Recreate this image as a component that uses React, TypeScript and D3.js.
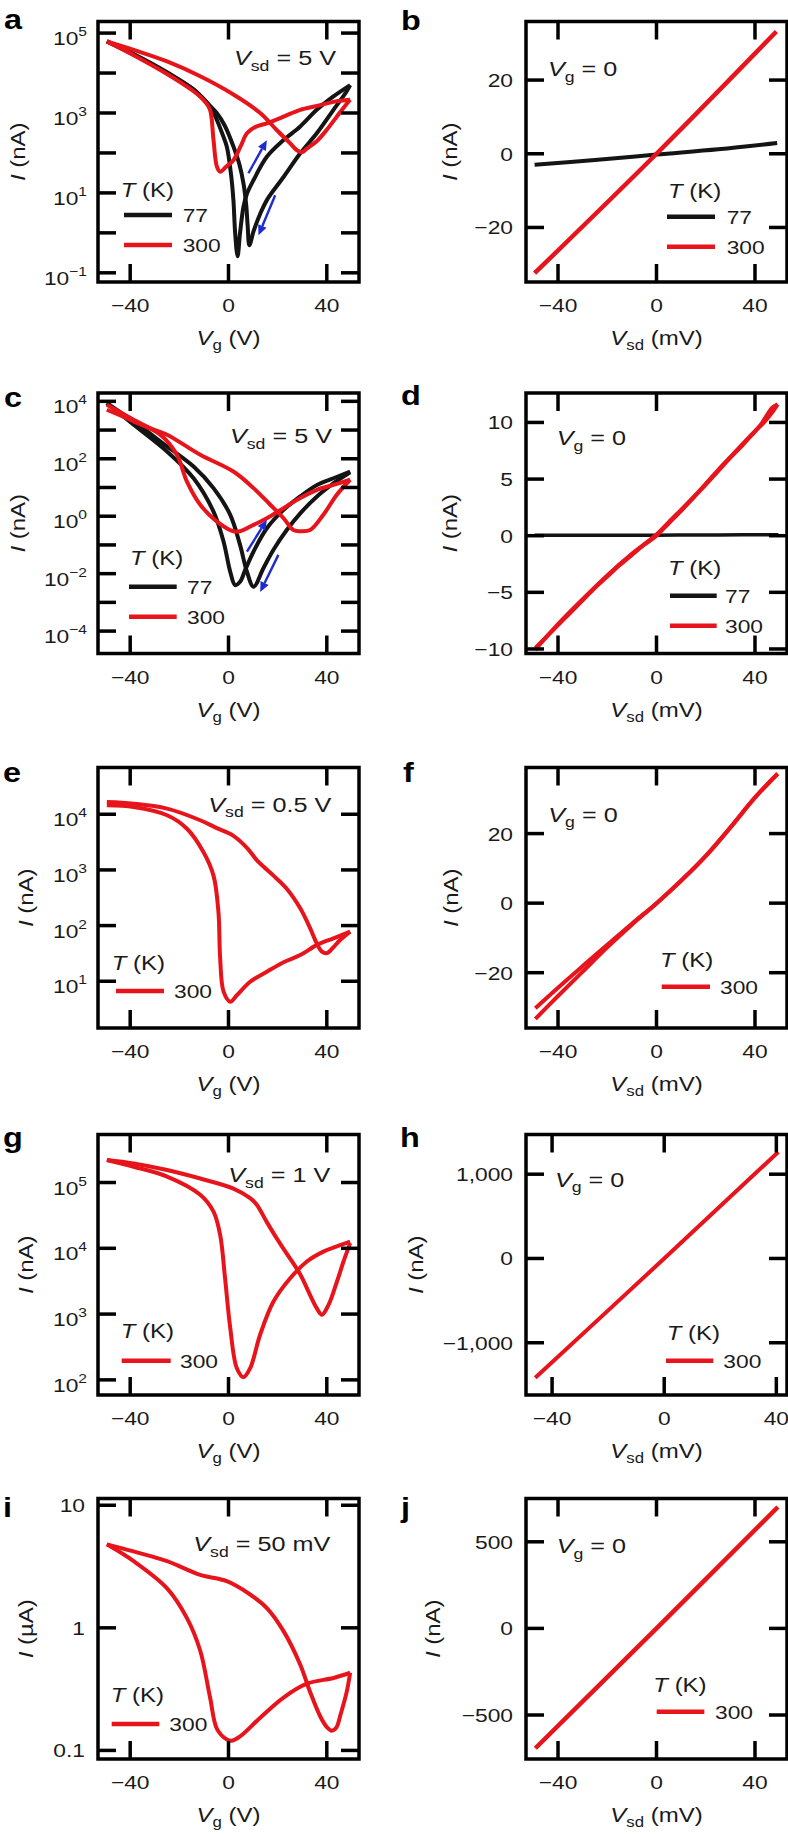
import React from 'react';
import * as d3 from 'd3';

type Pt = [number, number];

// ---------------- data ----------------
// panel a (log I in nA vs Vg)
const aBlack77Fwd: Pt[] = [[-49.5,6.2e4],[-38.6,2.9e4],[-25,1.0e4],[-14.2,3800],[-7.5,1450],[-4.7,660],[-2.5,300],[-0.7,145],[1,30],[2,6.6],[2.7,1.0],[3.7,0.26],[4.7,1.0],[6.1,4.5],[7.5,9.5],[10.2,21],[15.6,80],[22.4,210],[29.2,460],[35.9,1200],[42.7,2600],[49.5,5000]];
const aBlack77Rev: Pt[] = [[49.5,5000],[48.1,3500],[42.7,1200],[35.9,310],[29.2,98],[22.4,25],[15.6,6.6],[12.9,3.0],[10.2,1.1],[8.5,0.49],[7.8,1.5],[7.2,5],[6.1,17],[4.5,50],[2,145],[-1.5,480],[-4.7,980],[-7.5,1500],[-14.2,3900],[-25,1.05e4],[-38.6,3.0e4],[-49.5,6.2e4]];
const aRed300Fwd: Pt[] = [[-49.5,6.2e4],[-38.6,2.8e4],[-25,9500],[-14.2,3500],[-9.5,1900],[-7.5,1200],[-6.1,210],[-4.7,45],[-3.4,34],[-1,45],[2,66],[5,150],[7.5,310],[11,450],[15.6,550],[22.4,810],[29.2,1200],[35.9,1500],[42.7,1900],[49.5,2140]];
const aRed300Rev: Pt[] = [[49.5,2140],[47,1400],[44,800],[40,380],[36,200],[32,130],[30,105],[28,115],[25.1,174],[19.7,370],[12.9,1000],[2,2900],[-11.5,8300],[-25,1.95e4],[-38.6,3.8e4],[-49.5,6.2e4]];
const aArrows: [Pt, Pt][] = [[[8.1,31],[15.6,209]],[[19.0,8.7],[12.2,0.87]]];
const aYTicks = [1e5, 1e3, 1e1, 1e-1];
const aYTickExp = ['5', '3', '1', '−1'];
const aYMinor = [1e4, 1e2, 1e0];

// panel b
const bBlack77: Pt[] = [[-49.5,-3.0],[-25,-1.7],[0,-0.2],[25,1.2],[49,2.9]];
const bRed300: Pt[] = [[-49.5,-32.4],[0,0],[48.7,33.2]];
const bYTicks = [20, 0, -20];
const bYTickLabels = ['20', '0', '−20'];

// panel c
const cBlack77Fwd: Pt[] = [[-49.5,8700],[-38.6,1550],[-25,180],[-14.2,21],[-6.1,1.45],[-2,0.13],[0.7,0.0117],[2.7,0.004],[4.7,0.0052],[6.8,0.0135],[10.2,0.059],[15.6,0.38],[22.4,1.66],[29.2,4.9],[36,12.3],[42.7,21],[49.5,36]];
const cBlack77Rev: Pt[] = [[49.5,34],[42.7,14],[36,4.9],[29.2,1.26],[23.7,0.33],[18.3,0.068],[14.2,0.0155],[10.2,0.0035],[7.5,0.0117],[4.7,0.1],[0.7,1.12],[-6.1,9.5],[-14.2,54],[-25,270],[-38.6,2000],[-49.5,8700]];
const cRed300Rev: Pt[] = [[-49.5,7600],[-38.6,2300],[-31.9,1170],[-25,690],[-11.5,138],[2,36],[10.2,9.5],[17,2.5],[22.4,0.85],[26.4,0.33],[29.2,0.30],[33.2,0.33],[38.6,1.12],[44,5.5],[49.5,18.6]];
const cRed300Fwd: Pt[] = [[-49.5,5100],[-38.6,2000],[-27.8,690],[-21,138],[-16.9,16],[-11.5,2.5],[-4.7,0.65],[2,0.30],[4.7,0.30],[10.2,0.5],[15.6,0.85],[22.4,1.9],[29.2,4.3],[36,8.3],[42.7,12.3],[49.5,18.6]];
const cArrows: [Pt, Pt][] = [[[7.5,0.059],[15.6,0.74]],[[20.3,0.045],[12.9,0.0023]]];
const cYTicks = [1e4, 1e2, 1e0, 1e-2, 1e-4];
const cYTickExp = ['4', '2', '0', '−2', '−4'];
const cYMinor = [1e3, 1e1, 1e-1, 1e-3];

// panel d
const dBlack77: Pt[] = [[-49.5,0.05],[-25,0.04],[0,0.05],[25,0.07],[49.5,0.08]];
const dRed300Fwd: Pt[] = [[-49.2,-9.9],[-45,-9.0],[-40,-7.9],[-35,-6.8],[-30,-5.7],[-25,-4.6],[-20,-3.6],[-15,-2.6],[-10,-1.7],[-5,-0.8],[0,0],[5,1.1],[10,2.2],[15,3.35],[20,4.5],[25,5.7],[30,6.9],[35,8.0],[40,9.2],[44,10.1],[47,10.9],[49.2,11.6]];
const dRed300Rev: Pt[] = [[49.2,11.6],[47,11.3],[45,10.7],[42,9.7],[38,8.8],[32,7.4],[25,5.8],[15,3.4],[5,1.2],[0,0.1],[-10,-1.6],[-20,-3.5],[-30,-5.6],[-40,-7.8],[-47,-9.5],[-49.2,-10.1]];
const dYTicks = [10, 5, 0, -5, -10];
const dYTickLabels = ['10', '5', '0', '−5', '−10'];

// panel e
const eRed300Upper: Pt[] = [[-49.5,16600],[-38.6,15500],[-25,12600],[-11.5,7800],[-5,5700],[2,4100],[7.5,2500],[11.5,1500],[14.2,1150],[18.3,790],[23.7,460],[29.2,204],[33.2,90],[35.9,48],[38,34],[40,32],[42.5,40],[45.4,55],[49.5,78]];
const eRed300Lower: Pt[] = [[-49.5,14500],[-38.6,13500],[-25,9600],[-16.9,5500],[-10.2,2100],[-6.1,790],[-4.1,178],[-3.4,26],[-2,6.5],[0.7,4.3],[3.4,5.6],[8.8,9.8],[15.6,14.8],[22.4,22],[29.2,29.5],[36,45],[42.7,59],[49.5,78]];
const eYTicks = [1e4, 1e3, 1e2, 1e1];
const eYTickExp = ['4', '3', '2', '1'];

// panel f
const fRed300A: Pt[] = [[-49.2,-30.2],[-40,-24.3],[-30,-18.1],[-20,-12.0],[-10,-5.9],[0,0],[10,6.5],[20,13.6],[30,21.8],[40,30.4],[49.2,37.2]];
const fRed300B: Pt[] = [[-49.2,-33.3],[-40,-26.7],[-30,-19.7],[-20,-12.7],[-10,-6.2],[0,-0.1],[10,6.4],[20,13.5],[30,21.7],[40,30.3],[49.2,37.2]];
const fYTicks = [20, 0, -20];
const fYTickLabels = ['20', '0', '−20'];

// panel g
const gRed300Upper: Pt[] = [[-49.5,2.2e5],[-38.6,1.95e5],[-25,1.55e5],[-11.5,1.15e5],[2,8.1e4],[8.8,5.8e4],[11.5,4.6e4],[15.6,2.5e4],[19.7,1.4e4],[23.7,8300],[29.2,4000],[33.2,1950],[35.9,1230],[38,980],[40.7,1380],[44.1,3100],[46.8,6300],[49.5,1.2e4]];
const gRed300Lower: Pt[] = [[-49.5,2.2e5],[-38.6,1.74e5],[-25,1.23e5],[-11.5,6.5e4],[-6.1,3.6e4],[-3.4,1.6e4],[-1.4,3500],[0.7,620],[3.4,150],[6.1,110],[8.8,150],[12.9,490],[18.3,1550],[25.1,3500],[31.9,6300],[38.6,8900],[44.1,1.07e4],[49.5,1.26e4]];
const gYTicks = [1e5, 1e4, 1e3, 1e2];
const gYTickExp = ['5', '4', '3', '2'];

// panel h
const hRed300: Pt[] = [[-46,-1416],[0,0],[40.7,1264]];
const hYTicks = [1000, 0, -1000];
const hYTickLabels = ['1,000', '0', '−1,000'];

// panel i (µA)
const iRed300Upper: Pt[] = [[-49.5,4.8],[-38.6,4.2],[-25,3.5],[-11.5,2.7],[-0.7,2.4],[8.8,1.87],[15.6,1.45],[22.4,0.94],[29.2,0.5],[33.2,0.30],[37.3,0.19],[40,0.155],[42,0.145],[44,0.155],[45.4,0.19],[48.1,0.30],[49.5,0.43]];
const iRed300Lower: Pt[] = [[-49.5,4.8],[-38.6,3.5],[-25,2.1],[-16.9,1.2],[-11.5,0.65],[-7.5,0.27],[-4.7,0.15],[-0.7,0.123],[1.4,0.12],[4.7,0.13],[12.9,0.185],[22.4,0.27],[31.9,0.35],[42.7,0.39],[49.5,0.43]];
const iYTicks = [10, 1, 0.1];
const iYTickLabels = ['10', '1', '0.1'];

// panel j
const jRed300: Pt[] = [[-49.2,-692],[0,0],[49.3,701]];
const jYTicks = [500, 0, -500];
const jYTickLabels = ['500', '0', '−500'];

const xTicks = [-40, 0, 40];
const xTickLabels = ['−40', '0', '40'];

// ---------------- styles ----------------
const FONT = "'Liberation Sans', Arial, Helvetica, sans-serif";
const RED = '#e8141c';
const BLACK = '#141414';
const BLUE = '#1d2bcf';
const TXT = '#1a1a1a';
const SX = 1.2; // horizontal stretch of the lettering

interface Series { data: Pt[]; color: string; width?: number }
interface LegendItem { label: string; color: string; y: number }
interface PanelCfg {
  letter: string; lx: number; ly: number;
  L: number; T: number; W: number; H: number;
  xDomain: [number, number];
  log: boolean; yDomain: [number, number];
  yTicks: number[]; yLabels?: string[]; yExp?: string[]; yMinor?: number[];
  series: Series[];
  arrows?: [Pt, Pt][];
  legend: { tx: number; ty: number; x1: number; x2: number; textX: number; items: LegendItem[] };
  note: { x: number; y: number; sub: string; rest: string };
  xTitle: { sub: string; rest: string };
  yTitle: { unit: string; x: number };
}

const W = 261, H = 260.5;

const panels: PanelCfg[] = [
  { letter: 'a', lx: 4, ly: 29, L: 98, T: 21.5, W, H, xDomain: [-53.1, 53.1], log: true, yDomain: [10 ** -1.23, 10 ** 5.29],
    yTicks: aYTicks, yExp: aYTickExp, yMinor: aYMinor,
    series: [{ data: aBlack77Fwd, color: BLACK }, { data: aBlack77Rev, color: BLACK }, { data: aRed300Fwd, color: RED }, { data: aRed300Rev, color: RED }],
    arrows: aArrows,
    legend: { tx: 120.7, ty: 196.7, x1: 124, x2: 172, textX: 182.7, items: [{ label: '77', color: BLACK, y: 215 }, { label: '300', color: RED, y: 245 }] },
    note: { x: 234, y: 65, sub: 'sd', rest: ' = 5 V' }, xTitle: { sub: 'g', rest: ' (V)' }, yTitle: { unit: '(nA)', x: 25 } },
  { letter: 'b', lx: 401, ly: 30, L: 526, T: 21.5, W, H, xDomain: [-53, 53], log: false, yDomain: [-34.8, 35.9],
    yTicks: bYTicks, yLabels: bYTickLabels,
    series: [{ data: bBlack77, color: BLACK }, { data: bRed300, color: RED, width: 4.5 }],
    legend: { tx: 668, ty: 198, x1: 667, x2: 715, textX: 726.7, items: [{ label: '77', color: BLACK, y: 216.7 }, { label: '300', color: RED, y: 246.7 }] },
    note: { x: 548, y: 76, sub: 'g', rest: ' = 0' }, xTitle: { sub: 'sd', rest: ' (mV)' }, yTitle: { unit: '(nA)', x: 457 } },
  { letter: 'c', lx: 4, ly: 407, L: 98, T: 393, W, H, xDomain: [-53.1, 53.1], log: true, yDomain: [10 ** -4.78, 10 ** 4.29],
    yTicks: cYTicks, yExp: cYTickExp, yMinor: cYMinor,
    series: [{ data: cBlack77Fwd, color: BLACK }, { data: cBlack77Rev, color: BLACK }, { data: cRed300Fwd, color: RED }, { data: cRed300Rev, color: RED }],
    arrows: cArrows,
    legend: { tx: 130, ty: 565, x1: 129, x2: 176.7, textX: 187, items: [{ label: '77', color: BLACK, y: 586.7 }, { label: '300', color: RED, y: 616.7 }] },
    note: { x: 230, y: 443, sub: 'sd', rest: ' = 5 V' }, xTitle: { sub: 'g', rest: ' (V)' }, yTitle: { unit: '(nA)', x: 25 } },
  { letter: 'd', lx: 401, ly: 405, L: 526, T: 393, W, H, xDomain: [-53, 53], log: false, yDomain: [-10.4, 12.6],
    yTicks: dYTicks, yLabels: dYTickLabels,
    series: [{ data: dBlack77, color: BLACK, width: 3.5 }, { data: dRed300Fwd, color: RED }, { data: dRed300Rev, color: RED }],
    legend: { tx: 668, ty: 575, x1: 670, x2: 716.7, textX: 725, items: [{ label: '77', color: BLACK, y: 595.7 }, { label: '300', color: RED, y: 625.7 }] },
    note: { x: 556.7, y: 445, sub: 'g', rest: ' = 0' }, xTitle: { sub: 'sd', rest: ' (mV)' }, yTitle: { unit: '(nA)', x: 457 } },
  { letter: 'e', lx: 3, ly: 782, L: 98, T: 767.5, W, H, xDomain: [-53.1, 53.1], log: true, yDomain: [10 ** 0.16, 10 ** 4.84],
    yTicks: eYTicks, yExp: eYTickExp,
    series: [{ data: eRed300Upper, color: RED }, { data: eRed300Lower, color: RED }],
    legend: { tx: 111.7, ty: 970, x1: 116, x2: 164, textX: 174, items: [{ label: '300', color: RED, y: 991 }] },
    note: { x: 208.3, y: 811.7, sub: 'sd', rest: ' = 0.5 V' }, xTitle: { sub: 'g', rest: ' (V)' }, yTitle: { unit: '(nA)', x: 33 } },
  { letter: 'f', lx: 403, ly: 782, L: 526, T: 767.5, W, H, xDomain: [-53, 53], log: false, yDomain: [-35.9, 39],
    yTicks: fYTicks, yLabels: fYTickLabels,
    series: [{ data: fRed300A, color: RED }, { data: fRed300B, color: RED }],
    legend: { tx: 660, ty: 966.7, x1: 661.7, x2: 710, textX: 720, items: [{ label: '300', color: RED, y: 986.7 }] },
    note: { x: 548.3, y: 821.7, sub: 'g', rest: ' = 0' }, xTitle: { sub: 'sd', rest: ' (mV)' }, yTitle: { unit: '(nA)', x: 458 } },
  { letter: 'g', lx: 3, ly: 1147, L: 98, T: 1134.5, W, H, xDomain: [-53.1, 53.1], log: true, yDomain: [10 ** 1.77, 10 ** 5.73],
    yTicks: gYTicks, yExp: gYTickExp,
    series: [{ data: gRed300Upper, color: RED }, { data: gRed300Lower, color: RED }],
    legend: { tx: 120.7, ty: 1338.3, x1: 121.7, x2: 170.7, textX: 180, items: [{ label: '300', color: RED, y: 1360.7 }] },
    note: { x: 228.3, y: 1182.3, sub: 'sd', rest: ' = 1 V' }, xTitle: { sub: 'g', rest: ' (V)' }, yTitle: { unit: '(nA)', x: 33 } },
  { letter: 'h', lx: 400, ly: 1147, L: 526, T: 1134.5, W, H, xDomain: [-49.3, 43.8], log: false, yDomain: [-1620, 1471],
    yTicks: hYTicks, yLabels: hYTickLabels,
    series: [{ data: hRed300, color: RED }],
    legend: { tx: 666.7, ty: 1340, x1: 666, x2: 713.3, textX: 723.3, items: [{ label: '300', color: RED, y: 1360.7 }] },
    note: { x: 555, y: 1186.7, sub: 'g', rest: ' = 0' }, xTitle: { sub: 'sd', rest: ' (mV)' }, yTitle: { unit: '(nA)', x: 423 } },
  { letter: 'i', lx: 3, ly: 1517, L: 98, T: 1498.5, W, H, xDomain: [-53.1, 53.1], log: true, yDomain: [10 ** -1.07, 10 ** 1.055],
    yTicks: iYTicks, yLabels: iYTickLabels,
    series: [{ data: iRed300Upper, color: RED }, { data: iRed300Lower, color: RED }],
    legend: { tx: 110.7, ty: 1702.3, x1: 111.7, x2: 159.3, textX: 169.3, items: [{ label: '300', color: RED, y: 1724 }] },
    note: { x: 193.3, y: 1551, sub: 'sd', rest: ' = 50 mV' }, xTitle: { sub: 'g', rest: ' (V)' }, yTitle: { unit: '(µA)', x: 33 } },
  { letter: 'j', lx: 401, ly: 1517, L: 526, T: 1498.5, W, H, xDomain: [-53, 53], log: false, yDomain: [-754, 750],
    yTicks: jYTicks, yLabels: jYTickLabels,
    series: [{ data: jRed300, color: RED, width: 4.5 }],
    legend: { tx: 653.3, ty: 1691.7, x1: 656.7, x2: 704.3, textX: 715, items: [{ label: '300', color: RED, y: 1711.7 }] },
    note: { x: 556.7, y: 1553.3, sub: 'g', rest: ' = 0' }, xTitle: { sub: 'sd', rest: ' (mV)' }, yTitle: { unit: '(nA)', x: 440 } },
];

// text with a horizontal stretch, anchored at (x, y)
function T({ x, y, size, anchor, rotate, weight, children }: { x: number; y: number; size: number; anchor?: string; rotate?: boolean; weight?: string; children: React.ReactNode }) {
  return (
    <text transform={`translate(${x},${y})${rotate ? ' rotate(-90)' : ''} scale(${SX},1)`}
      fontSize={size} textAnchor={anchor || 'start'} fontWeight={weight} style={{ whiteSpace: 'pre' }}>
      {children}
    </text>
  );
}

function VText({ sub, rest, size }: { sub: string; rest: string; size: number }) {
  const d = size * 0.27;
  return (
    <>
      <tspan fontStyle="italic">V</tspan>
      <tspan fontSize={size * 0.7} dy={d}>{sub}</tspan>
      <tspan dy={-d}>{rest}</tspan>
    </>
  );
}

function Panel({ p }: { p: PanelCfg }) {
  const x = d3.scaleLinear().domain(p.xDomain).range([p.L, p.L + p.W]);
  const y = (p.log ? d3.scaleLog() : d3.scaleLinear()).domain(p.yDomain).range([p.T + p.H, p.T]) as (v: number) => number;
  const line = d3.line<Pt>().x(d => x(d[0])).y(d => y(d[1])).curve(d3.curveCatmullRom.alpha(0.5));
  const B = p.T + p.H, R = p.L + p.W;
  const TL = 18, SW = 3.5;
  const allY = [...p.yTicks, ...(p.yMinor || [])];
  return (
    <g>
      {p.series.map((s, i) => (
        <path key={i} d={line(s.data) || ''} fill="none" stroke={s.color} strokeWidth={s.width || 4} strokeLinejoin="round" />
      ))}
      {(p.arrows || []).map((a, i) => {
        const x1 = x(a[0][0]), y1 = y(a[0][1]), x2 = x(a[1][0]), y2 = y(a[1][1]);
        const ang = Math.atan2(y2 - y1, x2 - x1);
        const hl = 10, hw = 4.5;
        const bx = x2 - hl * Math.cos(ang), by = y2 - hl * Math.sin(ang);
        const pts = [[x2, y2], [bx + hw * Math.sin(ang), by - hw * Math.cos(ang)], [bx - hw * Math.sin(ang), by + hw * Math.cos(ang)]];
        return (
          <g key={'ar' + i}>
            <line x1={x1} y1={y1} x2={bx} y2={by} stroke={BLUE} strokeWidth={2.4} />
            <polygon points={pts.map(q => q.join(',')).join(' ')} fill={BLUE} />
          </g>
        );
      })}
      <rect x={p.L} y={p.T} width={p.W} height={p.H} fill="none" stroke="#000" strokeWidth={SW} />
      {xTicks.map(v => (
        <g key={'xt' + v}>
          <line x1={x(v)} x2={x(v)} y1={B} y2={B - TL} stroke="#000" strokeWidth={SW} />
          <line x1={x(v)} x2={x(v)} y1={p.T} y2={p.T + TL} stroke="#000" strokeWidth={SW} />
        </g>
      ))}
      {allY.map(v => (
        <g key={'yt' + v}>
          <line x1={p.L} x2={p.L + TL} y1={y(v)} y2={y(v)} stroke="#000" strokeWidth={SW} />
          <line x1={R} x2={R - TL} y1={y(v)} y2={y(v)} stroke="#000" strokeWidth={SW} />
        </g>
      ))}
      <g fontFamily={FONT} fill={TXT}>
        {xTicks.map((v, i) => (
          <T key={'xl' + v} x={x(v)} y={B + 30} size={19} anchor="middle">{xTickLabels[i]}</T>
        ))}
        {p.yTicks.map((v, i) => p.yExp ? (
          <T key={'yl' + v} x={p.L - 11} y={y(v) + 12} size={19} anchor="end">
            <tspan>10</tspan><tspan fontSize={13} dy={-9}>{p.yExp[i]}</tspan>
          </T>
        ) : (
          <T key={'yl' + v} x={p.L - 13} y={y(v) + 7} size={19} anchor="end">{p.yLabels![i]}</T>
        ))}
        <T x={p.L + p.W / 2} y={B + 63} size={20} anchor="middle">
          <VText sub={p.xTitle.sub} rest={p.xTitle.rest} size={20} />
        </T>
        <T x={p.yTitle.x} y={p.T + p.H / 2} size={20} anchor="middle" rotate>
          <tspan fontStyle="italic">I</tspan><tspan>{' ' + p.yTitle.unit}</tspan>
        </T>
        <T x={p.note.x} y={p.note.y} size={21}>
          <VText sub={p.note.sub} rest={p.note.rest} size={21} />
        </T>
        <T x={p.legend.tx} y={p.legend.ty} size={20}>
          <tspan fontStyle="italic">T</tspan><tspan>{' (K)'}</tspan>
        </T>
        {p.legend.items.map(it => (
          <g key={it.label}>
            <line x1={p.legend.x1} x2={p.legend.x2} y1={it.y} y2={it.y} stroke={it.color} strokeWidth={4.5} />
            <T x={p.legend.textX} y={it.y + 7} size={19}>{it.label}</T>
          </g>
        ))}
        <g fill="#000">
          <T x={p.lx} y={p.ly} size={27} weight="bold">{p.letter}</T>
        </g>
      </g>
    </g>
  );
}

export default function App() {
  return (
    <svg width={788} height={1835} viewBox="0 0 788 1835"
      style={{ position: 'absolute', left: 0, top: 0, background: '#fff' }}>
      <rect x={0} y={0} width={788} height={1835} fill="#fff" />
      {panels.map(p => <Panel key={p.letter} p={p} />)}
    </svg>
  );
}
